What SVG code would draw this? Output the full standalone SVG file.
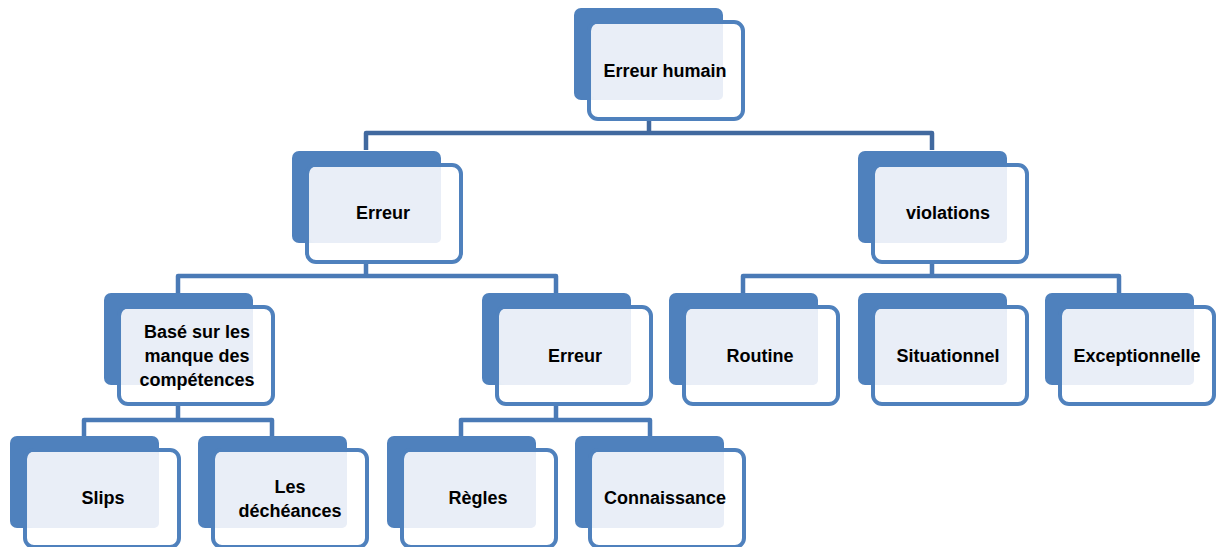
<svg xmlns="http://www.w3.org/2000/svg" width="1216" height="547" viewBox="0 0 1216 547">
<style>
.back{fill:#4F81BD}
.front{fill:#FFFFFF;fill-opacity:0.86;stroke:#4F81BD;stroke-width:4}
.light{fill:#E9EEF7}
.lbl{font-family:"Liberation Sans",Arial,sans-serif;font-weight:bold;font-size:18px;fill:#000;text-anchor:middle}
.c{fill:none;stroke:#4A7AB6;stroke-width:4.5;stroke-linejoin:round}
.c0{fill:none;stroke:#41699F;stroke-width:4.5;stroke-linejoin:round}
</style>
<defs>
<g id="box">
<rect class="back" x="0" y="0" width="149" height="92" rx="7"/>
<rect class="front" x="15" y="14" width="154" height="97" rx="9"/>
<rect class="light" x="18" y="16" width="131" height="76" rx="5"/>
</g>
</defs>
<g id="connectors">
<path class="c0" d="M649,121 V133 M366,150 V133 H932 V150"/>
<path class="c" d="M366,262 V276 M178,293 V276 H556 V293"/>
<path class="c" d="M932,262 V276 M743,293 V276 H1119 V293"/>
<path class="c" d="M178,405 V420 M84,436 V420 H272 V436"/>
<path class="c" d="M556,405 V420 M461,436 V420 H650 V436"/>
</g>
<g id="n-erreur-humain"><use href="#box" x="574" y="8"/><text class="lbl" x="665" y="76.5">Erreur humain</text></g>
<g id="n-erreur1"><use href="#box" x="292" y="151"/><text class="lbl" x="383" y="219">Erreur</text></g>
<g id="n-violations"><use href="#box" x="858" y="151"/><text class="lbl" x="948" y="219">violations</text></g>
<g id="n-base"><use href="#box" x="104" y="293"/><text class="lbl" x="197"><tspan x="197" y="337.5">Basé sur les</tspan><tspan x="197" y="361.5">manque des</tspan><tspan x="197" y="385.5">compétences</tspan></text></g>
<g id="n-erreur2"><use href="#box" x="482" y="293"/><text class="lbl" x="575" y="361.5">Erreur</text></g>
<g id="n-routine"><use href="#box" x="669" y="293"/><text class="lbl" x="760" y="361.5">Routine</text></g>
<g id="n-situationnel"><use href="#box" x="858" y="293"/><text class="lbl" x="948" y="361.5">Situationnel</text></g>
<g id="n-exceptionnelle"><use href="#box" x="1045" y="293"/><text class="lbl" x="1137" y="361.5">Exceptionnelle</text></g>
<g id="n-slips"><use href="#box" x="10" y="436"/><text class="lbl" x="103" y="504">Slips</text></g>
<g id="n-decheances"><use href="#box" x="198" y="436"/><text class="lbl" x="290"><tspan x="290" y="492.5">Les</tspan><tspan x="290" y="516.5">déchéances</tspan></text></g>
<g id="n-regles"><use href="#box" x="387" y="436"/><text class="lbl" x="478" y="504">Règles</text></g>
<g id="n-connaissance"><use href="#box" x="575" y="436"/><text class="lbl" x="665" y="504">Connaissance</text></g>
</svg>
